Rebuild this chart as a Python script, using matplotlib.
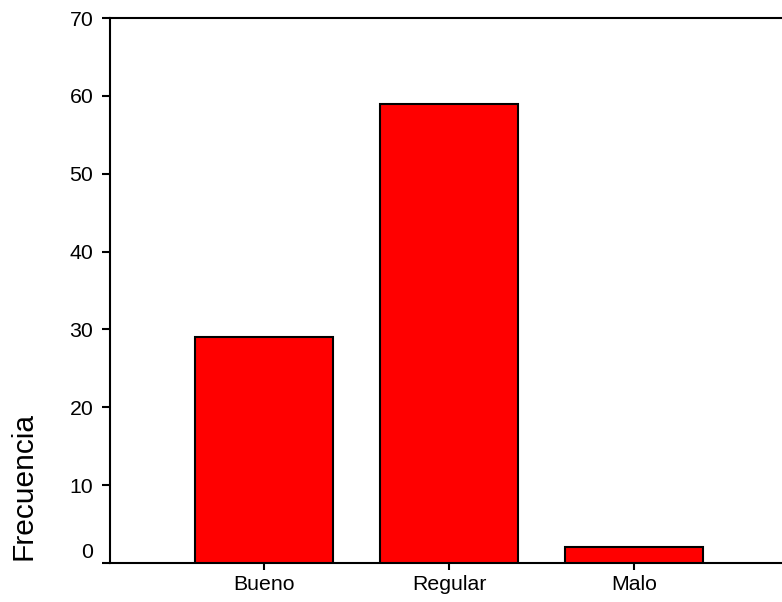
import matplotlib
matplotlib.use("Agg")
from matplotlib import pyplot
from matplotlib import transforms

categories = ["Bueno", "Regular", "Malo"]
frequencies = [29, 59, 2]
y_ticks = [0, 10, 20, 30, 40, 50, 60, 70]

pyplot.rcParams["font.family"] = ["Liberation Sans", "DejaVu Sans"]

figure = pyplot.figure(figsize=(7.82, 6.02), dpi=100)
ax = figure.add_axes([0.1407, 0.0648, 0.8593, 0.9052])

positions = list(range(len(categories)))
ax.bar(positions, frequencies, width=0.746, color="#FF0000",
       edgecolor="black", linewidth=1.5, zorder=3)

ax.set_xlim(-0.832, 2.8)
ax.set_ylim(0, 70)
ax.set_yticks(y_ticks)
ax.set_xticks(positions)
ax.set_xticklabels(categories)

ax.spines["right"].set_visible(False)
for side in ["left", "top", "bottom"]:
    ax.spines[side].set_linewidth(1.5)

ax.tick_params(axis="y", direction="out", length=6, width=1.5,
               labelsize=15.3, pad=6)
ax.tick_params(axis="x", direction="out", length=5, width=1.5,
               labelsize=15.3, pad=4)

# the "0" label sits a little above its tick
zero_label = ax.yaxis.get_major_ticks()[0].label1
zero_label.set_transform(zero_label.get_transform()
                         + transforms.ScaledTranslation(0, 12 / 100, figure.dpi_scale_trans))

ax.set_ylabel("Frecuencia", fontsize=21.5)
ax.yaxis.set_label_coords(-0.108, 0.142)

pyplot.savefig("out.png", dpi=100)
